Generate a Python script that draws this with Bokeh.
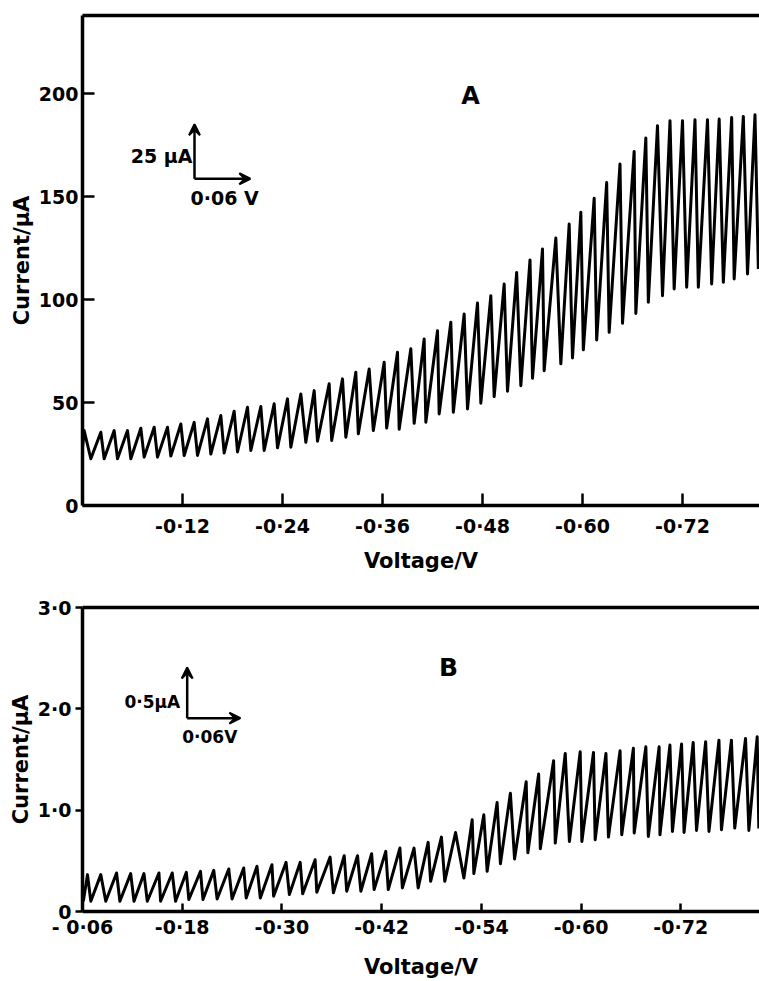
from bokeh.plotting import figure
from bokeh.layouts import column
from bokeh.models import Range1d, FixedTicker, LinearAxis, Arrow, VeeHead, Label
from bokeh.embed import file_html
from bokeh.resources import INLINE

FONT = "DejaVu Sans"

# ---------------- Panel A data (voltage in V, current in uA) ----------------
A_START_V = 0.0
A_START_I = 28.0
A_PEAK_V = [-0.002, -0.022, -0.038, -0.054, -0.070, -0.086, -0.102, -0.118, -0.134, -0.150,
            -0.166, -0.182, -0.198, -0.214, -0.230, -0.246, -0.262, -0.278, -0.296, -0.312,
            -0.328, -0.344, -0.362, -0.378, -0.394, -0.410, -0.426, -0.442, -0.458, -0.474,
            -0.490, -0.506, -0.521, -0.537, -0.552, -0.568, -0.584, -0.598, -0.614, -0.629,
            -0.645, -0.662, -0.676, -0.690, -0.705, -0.720, -0.735, -0.750, -0.764, -0.779,
            -0.793, -0.807]
A_PEAK_I = [36.4, 35.6, 36.4, 36.4, 37.5, 38.0, 38.0, 39.6, 40.4, 42.1,
            43.7, 45.8, 47.7, 48.1, 49.4, 51.8, 54.2, 55.8, 59.1, 61.5,
            64.7, 66.3, 69.6, 74.4, 76.1, 80.9, 84.9, 89.0, 93.0, 98.4,
            101.9, 107.6, 113.2, 119.3, 124.6, 129.9, 136.7, 142.4, 149.2, 156.9,
            165.9, 172.0, 178.5, 184.5, 186.9, 186.9, 187.4, 187.4, 187.7, 188.5,
            189.0, 189.8]
A_TROUGH_V = [-0.010, -0.026, -0.042, -0.058, -0.074, -0.090, -0.106, -0.122, -0.138, -0.154,
              -0.170, -0.186, -0.202, -0.218, -0.234, -0.250, -0.268, -0.282, -0.299, -0.316,
              -0.331, -0.349, -0.365, -0.380, -0.398, -0.412, -0.428, -0.445, -0.462, -0.478,
              -0.494, -0.510, -0.526, -0.540, -0.554, -0.574, -0.588, -0.601, -0.617, -0.632,
              -0.648, -0.664, -0.679, -0.696, -0.710, -0.725, -0.739, -0.755, -0.769, -0.782,
              -0.798, -0.811]
A_TROUGH_I = [22.7, 22.7, 22.7, 22.7, 23.5, 23.5, 24.0, 24.3, 24.3, 25.0,
              25.5, 26.0, 26.7, 26.7, 28.0, 28.3, 30.7, 31.2, 31.6, 33.2,
              34.8, 36.4, 37.6, 37.0, 39.9, 40.4, 44.5, 45.3, 46.9, 49.7,
              52.9, 55.5, 58.2, 61.8, 65.5, 68.8, 71.7, 75.6, 80.4, 84.1,
              88.5, 93.3, 98.7, 101.9, 105.2, 106.0, 106.0, 107.6, 108.4, 110.0,
              112.5, 114.9]
A_XTICKS = [-0.12, -0.24, -0.36, -0.48, -0.60, -0.72]
A_XLABELS = ["-0·12", "-0·24", "-0·36", "-0·48", "-0·60", "-0·72"]
A_YTICKS = [0, 50, 100, 150, 200]
A_YLABELS = ["0", "50", "100", "150", "200"]

# ---------------- Panel B data ----------------
B_START_V = -0.061
B_START_I = 0.10
B_PEAK_V = [-0.066, -0.082, -0.101, -0.118, -0.134, -0.152, -0.168, -0.185, -0.202, -0.218,
            -0.236, -0.254, -0.270, -0.288, -0.305, -0.322, -0.340, -0.358, -0.375, -0.391,
            -0.408, -0.425, -0.442, -0.459, -0.476, -0.492, -0.509, -0.529, -0.543, -0.559,
            -0.575, -0.594, -0.609, -0.627, -0.641, -0.659, -0.675, -0.690, -0.707, -0.723,
            -0.738, -0.754, -0.767, -0.781, -0.795, -0.810, -0.826, -0.841, -0.858, -0.872]
B_PEAK_I = [0.364, 0.364, 0.380, 0.374, 0.374, 0.380, 0.380, 0.387, 0.396, 0.406,
            0.420, 0.430, 0.446, 0.462, 0.485, 0.485, 0.511, 0.537, 0.551, 0.551,
            0.570, 0.593, 0.626, 0.626, 0.682, 0.734, 0.780, 0.905, 0.954, 1.075,
            1.167, 1.281, 1.357, 1.488, 1.560, 1.576, 1.570, 1.560, 1.586, 1.610,
            1.625, 1.625, 1.642, 1.652, 1.668, 1.675, 1.691, 1.691, 1.708, 1.724]
B_TROUGH_V = [-0.070, -0.088, -0.105, -0.122, -0.138, -0.154, -0.172, -0.188, -0.205, -0.222,
              -0.240, -0.257, -0.274, -0.290, -0.309, -0.325, -0.342, -0.362, -0.378, -0.395,
              -0.411, -0.428, -0.445, -0.464, -0.479, -0.496, -0.519, -0.531, -0.547, -0.563,
              -0.580, -0.596, -0.611, -0.629, -0.646, -0.661, -0.677, -0.693, -0.709, -0.724,
              -0.741, -0.755, -0.770, -0.784, -0.799, -0.814, -0.829, -0.845, -0.862, -0.874]
B_TROUGH_I = [0.101, 0.101, 0.101, 0.101, 0.101, 0.101, 0.101, 0.118, 0.118, 0.124,
              0.124, 0.134, 0.134, 0.151, 0.167, 0.175, 0.190, 0.184, 0.200, 0.200,
              0.216, 0.216, 0.233, 0.233, 0.298, 0.298, 0.331, 0.374, 0.396, 0.472,
              0.518, 0.580, 0.620, 0.675, 0.691, 0.691, 0.708, 0.734, 0.757, 0.774,
              0.740, 0.757, 0.790, 0.780, 0.800, 0.790, 0.806, 0.823, 0.800, 0.820]
B_XTICKS = [-0.06, -0.18, -0.30, -0.42, -0.54, -0.66, -0.78]
B_XLABELS = ["- 0·06", "-0·18", "-0·30", "-0·42", "-0·54", "-0·60", "-0·72"]
B_YTICKS = [0, 1, 2, 3]
B_YLABELS = ["0", "1·0", "2·0", "3·0"]


def trace(sv, si, pv, pi, tv, ti):
    xs, ys = [sv], [si]
    for a, b, c, d in zip(pv, pi, tv, ti):
        xs += [a, c]
        ys += [b, d]
    return xs, ys


def style(p, xticks, xlabels, yticks, ylabels, xt_in, yt_in, yt_out,
          xl_standoff, xa_standoff):
    p.outline_line_color = None
    p.grid.visible = False
    p.background_fill_color = "white"
    p.border_fill_color = "white"
    xa, ya = p.xaxis[0], p.yaxis[0]
    for ax in (xa, ya):
        ax.axis_line_width = 3.5
        ax.axis_line_color = "black"
        ax.major_tick_line_width = 2.5
        ax.major_tick_line_color = "black"
        ax.minor_tick_line_color = None
        ax.major_label_text_font = FONT
        ax.major_label_text_font_size = "19px"
        ax.major_label_text_font_style = "bold"
        ax.major_label_text_color = "black"
        ax.axis_label_text_font = FONT
        ax.axis_label_text_font_size = "21px"
        ax.axis_label_text_font_style = "bold"
        ax.axis_label_text_color = "black"
    xa.ticker = FixedTicker(ticks=xticks)
    xa.major_label_overrides = {t: s for t, s in zip(xticks, xlabels)}
    ya.ticker = FixedTicker(ticks=yticks)
    ya.major_label_overrides = {t: s for t, s in zip(yticks, ylabels)}
    xa.major_tick_in = xt_in
    xa.major_tick_out = 0
    ya.major_tick_in = yt_in
    ya.major_tick_out = yt_out
    xa.major_label_standoff = xl_standoff
    xa.axis_label_standoff = xa_standoff
    ya.major_label_standoff = 4
    ya.axis_label_standoff = 2
    top = LinearAxis(ticker=FixedTicker(ticks=[]), axis_line_width=3.5,
                     axis_line_color="black", major_tick_line_color=None,
                     minor_tick_line_color=None, major_label_text_font_size="0px",
                     major_tick_in=0, major_tick_out=0, major_label_standoff=0)
    p.add_layout(top, "above")


def scale_bar(p, vx, vy, dx, dy, ytext, xtext, ytext_pos, xtext_pos, size):
    head = dict(size=11, line_color="black", fill_color="black", line_width=2)
    p.add_layout(Arrow(end=VeeHead(**head), x_start=vx, y_start=vy, x_end=vx, y_end=vy + dy,
                       line_width=2.5, line_color="black"))
    p.add_layout(Arrow(end=VeeHead(**head), x_start=vx, y_start=vy, x_end=vx - dx, y_end=vy,
                       line_width=2.5, line_color="black"))
    p.add_layout(Label(x=ytext_pos[0], y=ytext_pos[1], text=ytext, text_align="right",
                       text_baseline="middle", text_font=FONT, text_font_size=size,
                       text_font_style="bold", text_color="black"))
    p.add_layout(Label(x=xtext_pos[0], y=xtext_pos[1], text=xtext, text_align="left",
                       text_baseline="middle", text_font=FONT, text_font_size=size,
                       text_font_style="bold", text_color="black"))


# ---------------- Panel A ----------------
pA = figure(width=759, height=585, x_range=Range1d(0.0, -0.8124), y_range=Range1d(0, 238),
            output_backend="svg", toolbar_location=None,
            min_border_left=82, min_border_right=0, min_border_top=15, min_border_bottom=80,
            x_axis_label="Voltage/V", y_axis_label="Current/μA")
style(pA, A_XTICKS, A_XLABELS, A_YTICKS, A_YLABELS, 12, 12, 0, 9, 9)
xa_, ya_ = trace(A_START_V, A_START_I, A_PEAK_V, A_PEAK_I, A_TROUGH_V, A_TROUGH_I)
pA.line(xa_, ya_, line_width=3, line_color="black", line_join="round")
scale_bar(pA, -0.1344, 158.7, 0.067, 26.5, "25 μA", "0·06 V",
          (-0.132, 169.9), (-0.1296, 149.5), "19px")
pA.add_layout(Label(x=-0.4656, y=199, text="A", text_align="center", text_baseline="middle",
                    text_font=FONT, text_font_size="24px", text_font_style="bold",
                    text_color="black"))

# ---------------- Panel B ----------------
pB = figure(width=759, height=396, x_range=Range1d(-0.06, -0.8748), y_range=Range1d(0, 3.0),
            output_backend="svg", toolbar_location=None,
            min_border_left=80, min_border_right=0, min_border_top=22, min_border_bottom=69,
            x_axis_label="Voltage/V", y_axis_label="Current/μA")
style(pB, B_XTICKS, B_XLABELS, B_YTICKS, B_YLABELS, 8, 0, 7, 4, 14)
xb_, yb_ = trace(B_START_V, B_START_I, B_PEAK_V, B_PEAK_I, B_TROUGH_V, B_TROUGH_I)
pB.line(xb_, yb_, line_width=3, line_color="black", line_join="round")
scale_bar(pB, -0.186, 1.908, 0.064, 0.5, "0·5μA", "0·06V",
          (-0.1776, 2.065), (-0.18, 1.72), "17px")
pB.add_layout(Label(x=-0.5004, y=2.41, text="B", text_align="center", text_baseline="middle",
                    text_font=FONT, text_font_size="25px", text_font_style="bold",
                    text_color="black"))

layout = column(pA, pB, spacing=0)
open("out.html", "w").write(file_html(layout, INLINE))
